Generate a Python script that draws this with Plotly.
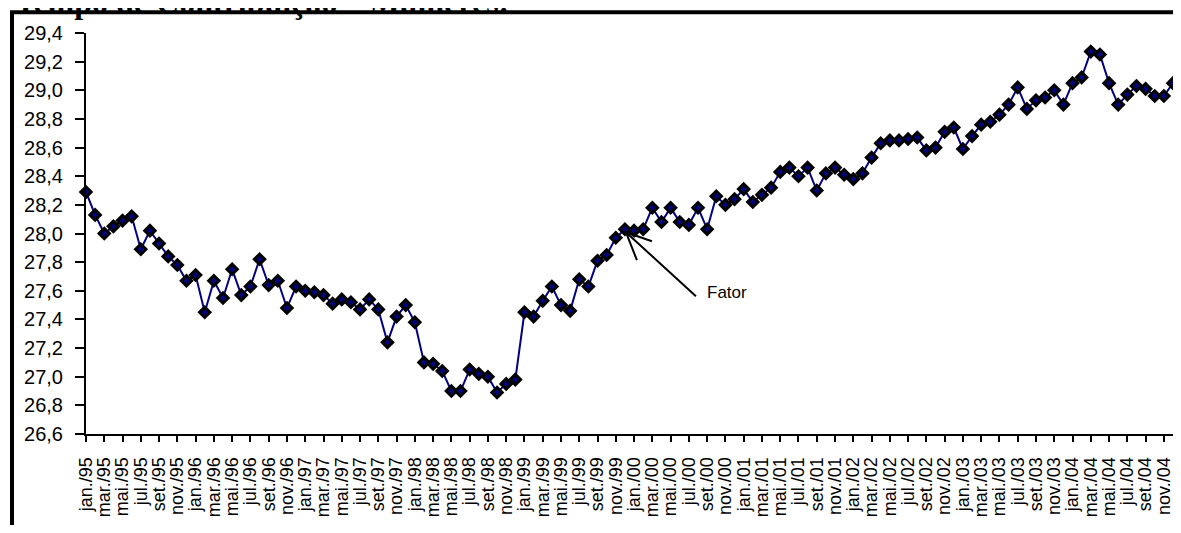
import plotly.graph_objects as go

month_abbr = ["jan.", "fev.", "mar.", "abr.", "mai.", "jun.",
              "jul.", "ago.", "set.", "out.", "nov.", "dez."]
years = ["95", "96", "97", "98", "99", "00", "01", "02", "03", "04"]

categories = [f"{m}/{y}" for y in years for m in month_abbr]

values = [
    28.29, 28.13, 28.00, 28.05, 28.09, 28.12, 27.89, 28.02, 27.93, 27.84,
    27.78, 27.67, 27.71, 27.45, 27.67, 27.55, 27.75, 27.57, 27.63, 27.82,
    27.64, 27.67, 27.48, 27.63, 27.60, 27.59, 27.57, 27.51, 27.54, 27.52,
    27.47, 27.54, 27.47, 27.24, 27.42, 27.50, 27.38, 27.10, 27.09, 27.04,
    26.90, 26.90, 27.05, 27.02, 27.00, 26.89, 26.95, 26.98, 27.45, 27.42,
    27.53, 27.63, 27.50, 27.46, 27.68, 27.63, 27.81, 27.85, 27.97, 28.03,
    28.02, 28.03, 28.18, 28.08, 28.18, 28.08, 28.06, 28.18, 28.03, 28.26,
    28.20, 28.24, 28.31, 28.22, 28.27, 28.32, 28.43, 28.46, 28.40, 28.46,
    28.30, 28.42, 28.46, 28.41, 28.38, 28.42, 28.53, 28.63, 28.65, 28.65,
    28.66, 28.67, 28.58, 28.60, 28.71, 28.74, 28.59, 28.68, 28.76, 28.78,
    28.83, 28.90, 29.02, 28.87, 28.93, 28.95, 29.00, 28.90, 29.05, 29.09,
    29.27, 29.25, 29.05, 28.90, 28.97, 29.03, 29.01, 28.96, 28.96, 29.05,
]

tick_labels = categories[::2]
y_ticks = [26.6, 26.8, 27.0, 27.2, 27.4, 27.6, 27.8, 28.0, 28.2, 28.4,
           28.6, 28.8, 29.0, 29.2, 29.4]

title_text = "Tempo de Contribuição – Mulheres:"
note_text = "Fator"
note_index = 59

# figure sits inside the page body (8 px default margin)
W, H = 1165, 517
ML, MR, MT, MB = 78, 0, 24.7, 91
PW = W - ML - MR
PH = H - MT - MB


def px_x(p):
    return (p - ML) / PW


def px_y(p):
    return (H - MB - p) / PH


fig = go.Figure()
fig.add_trace(go.Scatter(
    x=categories, y=values, mode="lines+markers",
    line=dict(color="#000080", width=2),
    marker=dict(symbol="diamond", size=8, color="#000080",
                line=dict(color="black", width=3)),
    cliponaxis=False, showlegend=False,
))

fig.update_layout(
    width=W, height=H,
    margin=dict(l=ML, r=MR, t=MT, b=MB, pad=0),
    paper_bgcolor="white", plot_bgcolor="white",
    separators=",.",
    xaxis=dict(
        type="category", range=[0, len(categories) - 1],
        tickmode="array", tickvals=tick_labels, ticktext=tick_labels,
        tickangle=-90, ticks="outside", ticklen=6, tickwidth=2,
        tickcolor="black", showline=True, linecolor="black", linewidth=2,
        showgrid=False, zeroline=False,
        tickfont=dict(family="Liberation Sans", size=18, color="black"),
        ticklabelstandoff=8,
    ),
    yaxis=dict(
        range=[26.6, 29.4], tickmode="array", tickvals=y_ticks,
        tickformat=".1f", ticks="outside", ticklen=9, tickwidth=2,
        tickcolor="black", showline=True, linecolor="black", linewidth=2,
        showgrid=False, zeroline=False,
        tickfont=dict(family="Liberation Sans", size=20, color="black"),
        ticklabelstandoff=8,
    ),
    shapes=[
        dict(type="rect", xref="paper", yref="paper",
             x0=px_x(4), x1=px_x(1200), y0=px_y(4), y1=px_y(560),
             line=dict(color="black", width=4), fillcolor="rgba(0,0,0,0)",
             layer="above"),
        dict(type="path", xref="x", yref="y",
             xsizemode="pixel", ysizemode="pixel",
             xanchor=categories[note_index], yanchor=values[note_index],
             path="M 71 -67 L 1 -3 M 12 -31 L 1 -3 L 27 -12",
             line=dict(color="black", width=2)),
    ],
    annotations=[
        dict(text=f"<b>{title_text}</b>", xref="paper", yref="paper",
             x=px_x(5), y=px_y(14), xanchor="left", yanchor="bottom",
             showarrow=False,
             font=dict(family="Liberation Serif", size=32, color="black")),
        dict(text=note_text, xref="x", yref="y",
             x=categories[note_index], y=values[note_index],
             xanchor="left", yanchor="middle", xshift=80, yshift=-63,
             showarrow=False,
             font=dict(family="Liberation Sans", size=17, color="black")),
    ],
)

fig.write_html("out.html")
